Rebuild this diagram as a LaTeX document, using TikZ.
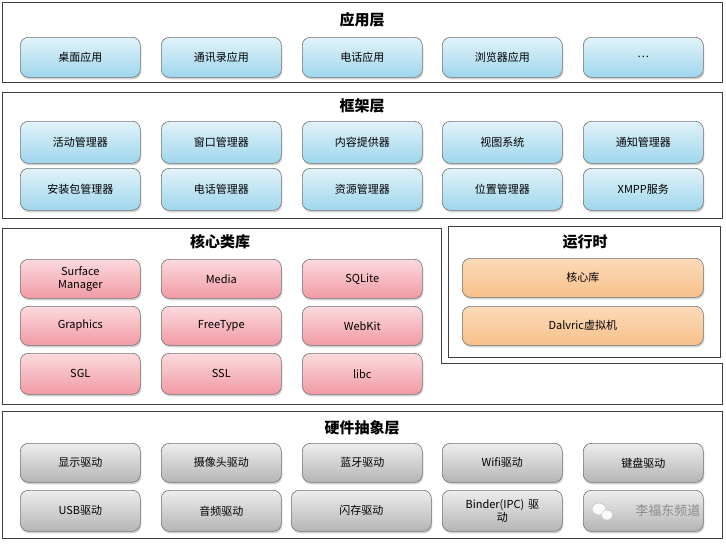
\documentclass[tikz,border=0pt]{standalone}
\usepackage{fontspec}
\setmainfont{Noto Sans CJK SC}
\usetikzlibrary{shadows}
\definecolor{bt}{HTML}{E2F3FA}\definecolor{bb}{HTML}{9ED6EC}
\definecolor{rt}{HTML}{FBDADE}\definecolor{rb}{HTML}{F29AA4}
\definecolor{ot}{HTML}{FCDBBA}\definecolor{ob}{HTML}{F7C089}
\definecolor{gt}{HTML}{EDEDED}\definecolor{gb}{HTML}{B5B5B5}
\tikzset{
 layer/.style={draw=black!75,line width=1pt},
 title/.style={font=\bfseries\fontsize{15}{16}\selectfont},
 mod/.style={rounded corners=8pt,draw=black!55,line width=0.6pt,drop shadow={shadow xshift=1pt,shadow yshift=-2pt,opacity=0.35},font=\fontsize{11}{12.5}\selectfont,align=center,text width=112pt,inner sep=0pt},
 blue/.style={mod,top color=bt,bottom color=bb},
 red/.style={mod,top color=rt,bottom color=rb},
 org/.style={mod,top color=ot,bottom color=ob},
 gry/.style={mod,top color=gt,bottom color=gb},
}
\begin{document}
\begin{tikzpicture}[x=1pt,y=-1pt]
\useasboundingbox (0,0) rectangle (726,544);
\fill[white] (0,0) rectangle (726,544);
% app layer
\draw[layer] (2,2) rectangle (722,82);
\node[title] (t1) at (362,20) {应用层};
\foreach \n/\x/\t in {a1/20/桌面应用,a2/161/通讯录应用,a3/302/电话应用,a4/442/浏览器应用,a5/583/…}
 \node[blue,minimum width=120pt,minimum height=40pt,anchor=north west] (\n) at (\x,37) {\t};
% framework
\draw[layer] (2,92) rectangle (722,218);
\node[title] (t2) at (362,106) {框架层};
\foreach \n/\x/\t in {f1/20/活动管理器,f2/161/窗口管理器,f3/302/内容提供器,f4/442/视图系统,f5/583/通知管理器}
 \node[blue,minimum width=120pt,minimum height=42pt,anchor=north west] (\n) at (\x,121) {\t};
\foreach \n/\x/\t in {g1/20/安装包管理器,g2/161/电话管理器,g3/302/资源管理器,g4/442/位置管理器,g5/583/XMPP服务}
 \node[blue,minimum width=120pt,minimum height=42pt,anchor=north west] (\n) at (\x,168) {\t};
% core libs
\draw[layer] (2,228) -- (441,228) -- (441,363) -- (722,363) -- (722,404) -- (2,404) -- cycle;
\node[title] (t3) at (220,242) {核心类库};
\foreach \n/\x/\t in {c1/20/Surface\\Manager,c2/161/Media,c3/302/SQLite}
 \node[red,minimum width=120pt,minimum height=39pt,anchor=north west] (\n) at (\x,259) {\t};
\foreach \n/\x/\t in {d1/20/Graphics,d2/161/FreeType,d3/302/WebKit}
 \node[red,minimum width=120pt,minimum height=39pt,anchor=north west] (\n) at (\x,306) {\t};
\foreach \n/\x/\t in {e1/20/SGL,e2/161/SSL,e3/302/libc}
 \node[red,minimum width=120pt,minimum height=41pt,anchor=north west] (\n) at (\x,353) {\t};
% runtime
\draw[layer] (448,226) rectangle (720,357);
\node[title] (t4) at (585,242) {运行时};
\node[org,minimum width=241pt,minimum height=39pt,anchor=north west] (r1) at (462,258) {核心库};
\node[org,minimum width=241pt,minimum height=39pt,anchor=north west] (r2) at (462,306) {Dalvric虚拟机};
% HAL
\draw[layer] (2,411) rectangle (722,538);
\node[title] (t5) at (362,428) {硬件抽象层};
\foreach \n/\x/\t in {h1/20/显示驱动,h2/161/摄像头驱动,h3/302/蓝牙驱动,h4/442/Wifi驱动,h5/583/键盘驱动}
 \node[gry,minimum width=120pt,minimum height=39pt,anchor=north west] (\n) at (\x,443) {\t};
\foreach \n/\x/\w/\t in {i1/20/120/USB驱动,i2/161/120/音频驱动,i3/291/140/闪存驱动,i4/442/120/Binder(IPC) 驱\\动,i5/583/120/}
 \node[gry,minimum width=\w pt,minimum height=41pt,anchor=north west] (\n) at (\x,490) {\t};
\node[text=black!45,font=\fontsize{13}{14}\selectfont,anchor=east] (wm) at (704,511) {李福东频道};
\fill[white,draw=black!30,opacity=0.9] (599,509) ellipse (7pt and 6pt);
\fill[white,draw=black!30,opacity=0.9] (607,515) ellipse (6pt and 5pt);
\end{tikzpicture}
\end{document}
